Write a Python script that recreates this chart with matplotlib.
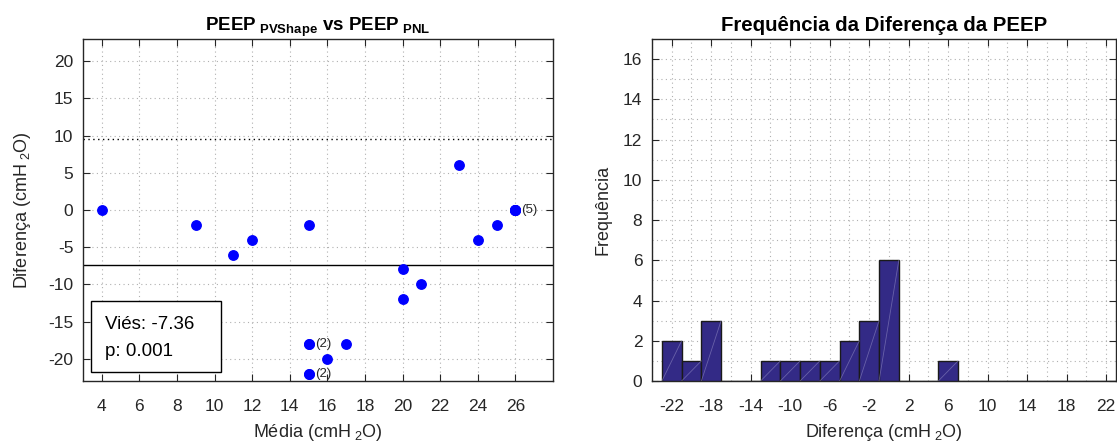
import numpy as np
import matplotlib
matplotlib.use('Agg')
import matplotlib.pyplot as plt
from matplotlib.patches import Rectangle

# paired PEEP values: mean of both methods and their difference (cmH2O)
media = [4, 9, 11, 12, 15, 15, 15, 15, 15, 16, 17, 20, 20, 21, 23, 24, 25, 26, 26, 26, 26, 26]
diferenca = [0, -2, -6, -4, -2, -18, -18, -22, -22, -20, -18, -8, -12, -10, 6, -4, -2, 0, 0, 0, 0, 0]

# repeated points get a count label
rotulos = [(15, -18, '(2)'), (15, -22, '(2)'), (26, 0, '(5)')]
p_valor = 0.001

hist_edges = np.arange(-23, 24, 2)

plt.rcParams['font.family'] = ['Liberation Sans', 'DejaVu Sans']
plt.rcParams['mathtext.fontset'] = 'custom'
plt.rcParams['mathtext.rm'] = 'Liberation Sans'
plt.rcParams['mathtext.bf'] = 'Liberation Sans:bold'
plt.rcParams['axes.unicode_minus'] = False

cinza = '#262626'
fs_tick = 12.5
fs_label = 13
grid_kw = dict(color='#b0b0b0', linestyle=(0, (1, 3)), linewidth=0.8)

fig = plt.figure(figsize=(11.17, 4.45), dpi=100)
W, H = 1117, 445
ax1 = fig.add_axes([83 / W, 1 - 381 / H, (553 - 83) / W, (381 - 39) / H])
ax2 = fig.add_axes([652 / W, 1 - 381 / H, (1116 - 652) / W, (381 - 39) / H])

d = np.array(diferenca, dtype=float)
vies = d.mean()
dp = d.std(ddof=1)

# Bland-Altman
ax1.plot(media, diferenca, 'o', color='blue', ms=6.8, zorder=3)
ax1.axhline(vies, color='k', lw=1.0)
ax1.axhline(vies + 1.96 * dp, color='k', lw=1.0, ls=(0, (1, 2.5)))
ax1.axhline(vies - 1.96 * dp, color='k', lw=1.0, ls=(0, (1, 2.5)))
for x, y, s in rotulos:
    ax1.text(x + 0.33, y, s, fontsize=9.5, va='center', ha='left', color=cinza)

ax1.set_xlim(3, 28)
ax1.set_ylim(-23, 23)
ax1.set_xticks(np.arange(4, 27, 2))
ax1.set_yticks(np.arange(-20, 21, 5))
ax1.grid(True, **grid_kw)
ax1.set_title(r'$\mathbf{PEEP}_{\ \mathbf{PVShape}}$ vs $\mathbf{PEEP}_{\ \mathbf{PNL}}$',
              fontsize=13.5, fontweight='bold', pad=6)
ax1.set_xlabel('Média (cmH$_{\\ 2}$O)', fontsize=fs_label, color=cinza, labelpad=6)
ax1.set_ylabel('Diferença (cmH$_{\\ 2}$O)', fontsize=fs_label, color=cinza, labelpad=11)

ax1.add_patch(Rectangle((0.018, 0.026), 0.276, 0.208, transform=ax1.transAxes,
                        fill=True, facecolor='white', edgecolor='k', lw=1.0, zorder=4))
ax1.text(0.047, 0.165, 'Viés: %.2f' % vies, transform=ax1.transAxes,
         fontsize=13.5, va='center', ha='left', zorder=5)
ax1.text(0.047, 0.086, 'p: %.3f' % p_valor, transform=ax1.transAxes,
         fontsize=13.5, va='center', ha='left', zorder=5)

# histogram of the differences
n, bins, patches = ax2.hist(d, bins=hist_edges, color='#332a86', edgecolor='#1a1a1a',
                            linewidth=1.0, zorder=3)
for left, h in zip(bins[:-1], n):
    if h > 0:
        ax2.plot([left, left + 2], [0, h], color='#8c86c0', lw=0.6, alpha=0.6, zorder=4)
ax2.set_xlim(-24, 23)
ax2.set_ylim(0, 17)
ax2.set_xticks(np.arange(-22, 23, 4))
ax2.set_xticks(np.arange(-24, 23, 2), minor=True)
ax2.set_yticks(np.arange(0, 17, 2))
ax2.set_yticks(np.arange(0, 17, 1), minor=True)
ax2.grid(True, which='both', **grid_kw)
ax2.set_title('Frequência da Diferença da PEEP', fontsize=14.7, fontweight='bold', pad=6)
ax2.set_xlabel('Diferença (cmH$_{\\ 2}$O)', fontsize=fs_label, color=cinza, labelpad=6)
ax2.set_ylabel('Frequência', fontsize=fs_label, color=cinza, labelpad=8)

for ax in (ax1, ax2):
    ax.set_axisbelow(True)
    ax.tick_params(which='both', direction='in', top=True, right=True,
                   labelsize=fs_tick, colors=cinza)
    ax.tick_params(axis='x', pad=13)
    ax.tick_params(axis='y', pad=7)
    ax.tick_params(which='major', length=5, width=0.8)
    ax.tick_params(which='minor', length=0)
    for sp in ax.spines.values():
        sp.set_color(cinza)
        sp.set_linewidth(1.0)

fig.savefig('out.png', dpi=100)
